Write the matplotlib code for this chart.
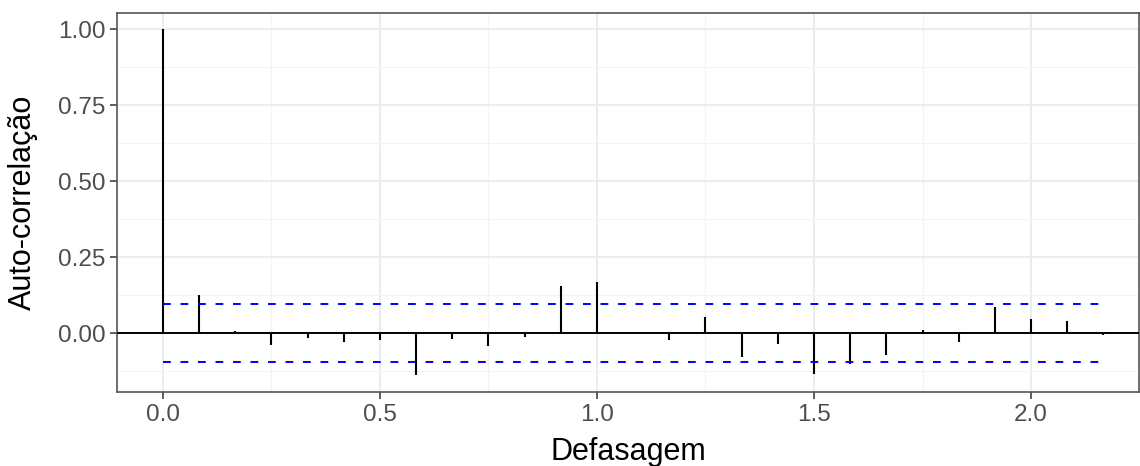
import numpy as np
import matplotlib.pyplot as plt
from matplotlib.ticker import MultipleLocator

# lags in years (monthly series), acf values
lags = np.arange(27) / 12
acf = [1.000, 0.126, 0.007, -0.040, -0.018, -0.031, -0.024, -0.137, -0.019,
       -0.042, -0.014, 0.156, 0.168, 0.001, -0.023, 0.052, -0.079, -0.037,
       -0.135, -0.102, -0.071, 0.010, -0.029, 0.086, 0.047, 0.038, -0.007]
ci = 0.096

plt.rcParams['font.family'] = ['Liberation Sans', 'DejaVu Sans']

fig = plt.figure(figsize=(11.4, 4.66), dpi=100)
ax = fig.add_axes([0.1026, 0.159, 0.8966, 0.813])

ax.axhline(0, color='black', lw=1.4, zorder=3)
ax.vlines(lags, 0, acf, color='black', lw=1.5, zorder=4)
ax.hlines([ci, -ci], lags[0], lags[-1], color='#0000FF', lw=1.4,
          linestyles=(0, (4, 5)), zorder=4)

ax.set_xlim(-0.106, 2.249)
ax.set_ylim(-0.194, 1.054)
ax.xaxis.set_major_locator(MultipleLocator(0.5))
ax.xaxis.set_minor_locator(MultipleLocator(0.25))
ax.yaxis.set_major_locator(MultipleLocator(0.25))
ax.yaxis.set_minor_locator(MultipleLocator(0.125))
ax.xaxis.set_major_formatter(lambda v, p: f'{v:.1f}')
ax.yaxis.set_major_formatter(lambda v, p: f'{v:.2f}')

ax.grid(True, which='major', color='#EBEBEB', lw=1.3)
ax.grid(True, which='minor', color='#F3F3F3', lw=0.8)
ax.set_axisbelow(True)
for s in ax.spines.values():
    s.set_color('#555555')
    s.set_linewidth(1.2)

ax.tick_params(which='major', length=5, width=1.1, color='#333333',
               labelsize=17.5, labelcolor='#4D4D4D', pad=3.5)
ax.tick_params(which='minor', length=0)

ax.set_xlabel('Defasagem', fontsize=22)
ax.xaxis.set_label_coords(0.5, -0.12)
ax.set_ylabel('Auto-correlação', fontsize=22)
ax.yaxis.set_label_coords(-0.0775, 0.5)

fig.savefig('out.png', dpi=100)
